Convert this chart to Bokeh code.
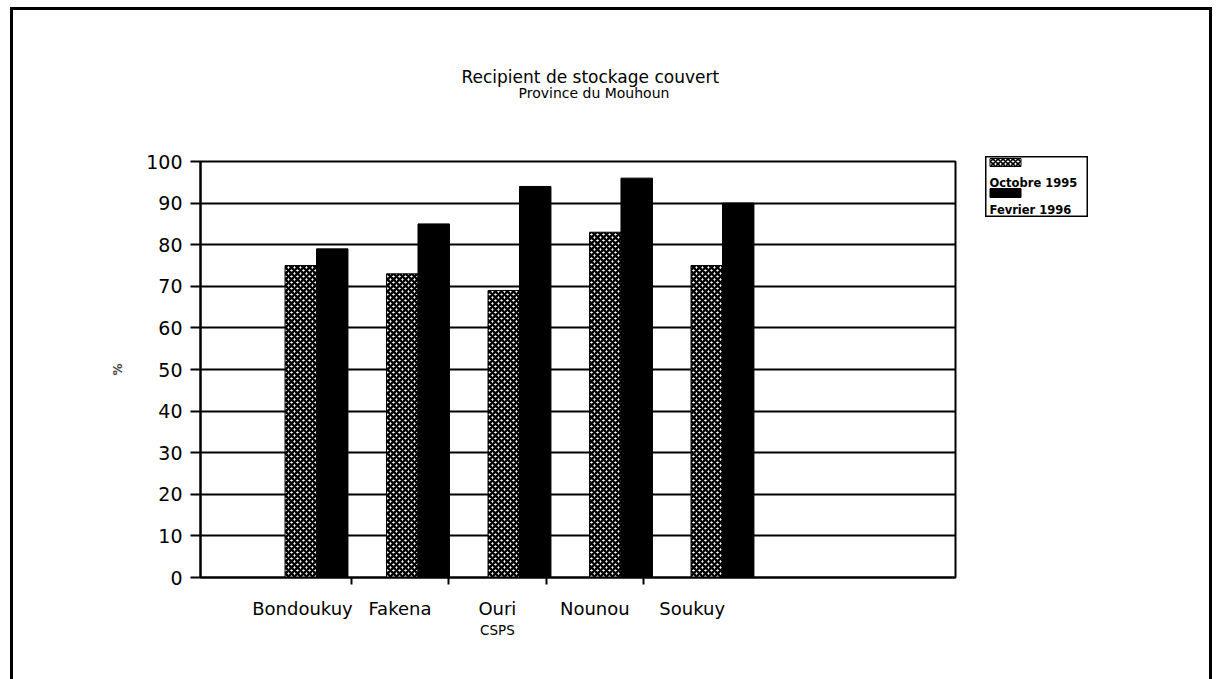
from bokeh.plotting import figure
from bokeh.models import Range1d, FixedTicker, Title, ColumnDataSource, Spacer, LinearAxis
from bokeh.layouts import row, column
from bokeh.embed import file_html
from bokeh.resources import INLINE
from bokeh.transform import dodge
from bokeh.core.properties import value

# ---- data ----
villages = ["Bondoukuy", "Fakena", "Ouri", "Nounou", "Soukuy"]
village_sub = ["", "", "CSPS", "", ""]
oct_1995 = [75, 73, 69, 83, 75]
fev_1996 = [79, 85, 94, 96, 90]
series_names = ["Octobre 1995", "Fevrier 1996"]
y_ticks = list(range(0, 101, 10))
title_text = "Recipient de stockage couvert"
subtitle_text = "Province du Mouhoun"
y_label = "%"

FONT = "DejaVu Sans"
idx = list(range(len(villages)))
src = ColumnDataSource(dict(idx=idx, oct=oct_1995, fev=fev_1996))

W, H = 1213, 679
PW = 985
p = figure(width=PW, height=H, output_backend="svg", toolbar_location=None,
           x_range=Range1d(-1.143, 6.296), y_range=Range1d(0, 100),
           min_border_left=200, min_border_right=30, min_border_top=161, min_border_bottom=102)
p.background_fill_color = "white"
p.border_fill_alpha = 0
p.outline_line_color = "black"
p.outline_line_width = 2

# titles: empty spacer title nearest the frame, then the subtitle, main title outermost
p.add_layout(Title(text=" ", standoff=43, text_font=FONT, text_font_size="14px"), "above")
p.add_layout(Title(text=subtitle_text, align="left", offset=318, standoff=0,
                   text_font=FONT, text_font_size="14px", text_font_style="normal",
                   text_color="black"), "above")
p.title.text = title_text
p.title.align = "left"
p.title.offset = 261
p.title.standoff = -8
p.title.text_font = FONT
p.title.text_font_size = "17px"
p.title.text_font_style = "normal"
p.title.text_color = "black"

bw = 0.31
p.vbar(x=dodge("idx", -bw / 2), top="oct", width=bw, source=src,
       fill_color="white", hatch_pattern="diagonal_cross", hatch_color="black",
       hatch_scale=6, hatch_weight=2.4, line_color="black", line_width=1)
p.vbar(x=dodge("idx", bw / 2), top="fev", width=bw, source=src,
       fill_color="black", line_color="black", line_width=1)

# grid
p.xgrid.visible = False
p.ygrid.ticker = FixedTicker(ticks=y_ticks)
p.ygrid.grid_line_color = "black"
p.ygrid.grid_line_width = 2

# y axis
p.yaxis.ticker = FixedTicker(ticks=y_ticks)
p.yaxis.axis_line_color = "black"
p.yaxis.axis_line_width = 2
p.yaxis.major_tick_out = 10
p.yaxis.major_tick_in = 0
p.yaxis.major_tick_line_width = 2
p.yaxis.minor_tick_line_color = None
p.yaxis.major_label_standoff = 8
p.yaxis.major_label_text_font = FONT
p.yaxis.major_label_text_font_size = "19px"
p.yaxis.major_label_text_color = "black"
p.yaxis.axis_label = y_label
p.yaxis.axis_label_text_font = FONT
p.yaxis.axis_label_text_font_size = "12px"
p.yaxis.axis_label_text_font_style = "bold"
p.yaxis.axis_label_standoff = 18

# x axis
lab_x = [round(i * 0.96 - 0.138, 4) for i in idx]
bounds = [round((a + b) / 2, 4) for a, b in zip(lab_x, lab_x[1:])]
xax = p.xaxis[0]
xax.ticker = FixedTicker(ticks=lab_x, minor_ticks=bounds)
xax.major_label_overrides = {x: v for x, v in zip(lab_x, villages)}
xax.axis_line_color = "black"
xax.axis_line_width = 2
xax.major_tick_out = 0
xax.major_tick_in = 0
xax.minor_tick_out = 7
xax.minor_tick_in = 0
xax.minor_tick_line_color = "black"
xax.minor_tick_line_width = 2
xax.major_label_standoff = 13
xax.major_label_text_font = FONT
xax.major_label_text_font_size = "18px"
xax.major_label_text_color = "black"

# second line of category labels (smaller), as an extra axis below
sub_x = [x for x, s in zip(lab_x, village_sub) if s]
sub_ax = LinearAxis(ticker=FixedTicker(ticks=sub_x, minor_ticks=[]),
                    major_label_overrides={x: s for x, s in zip(lab_x, village_sub) if s},
                    axis_line_color=None, major_tick_line_color=None, minor_tick_line_color=None,
                    major_tick_out=0, major_tick_in=0, major_label_standoff=0,
                    major_label_text_font=FONT, major_label_text_font_size="13.5px",
                    major_label_text_color="black")
p.add_layout(sub_ax, "below")

# ---- legend as a small figure ----
LW, LH = 103, 61
leg = figure(width=LW, height=LH, output_backend="svg", toolbar_location=None,
             x_range=Range1d(0, LW), y_range=Range1d(LH, 0),
             x_axis_type=None, y_axis_type=None, min_border=0)
leg.grid.visible = False
leg.outline_line_color = "black"
leg.outline_line_width = 2
leg.background_fill_color = "white"
leg.border_fill_alpha = 0
leg.rect(x=[20], y=[6], width=31, height=8, fill_color="white",
         hatch_pattern="diagonal_cross", hatch_color="black", hatch_scale=5, hatch_weight=1.6,
         line_color="black", line_width=1)
leg.rect(x=[20], y=[36.5], width=31, height=9, fill_color="black", line_color="black")
leg.text(x=[4, 4], y=[26, 53], text=series_names, text_font=value(FONT),
         text_font_size="11.5px", text_font_style="bold", text_color="black",
         text_baseline="alphabetic", text_align="left")

layout = row(p, column(Spacer(height=156, width=LW), leg),
             Spacer(width=W - PW - LW, height=H))
# page frame (left, top, right edges) painted behind the transparent figures
layout.styles = {
    "background": ("linear-gradient(black, black) 10px 7px / 3px 700px no-repeat, "
                   "linear-gradient(black, black) 10px 7px / 1202px 3px no-repeat, "
                   "linear-gradient(black, black) 1209px 7px / 3px 700px no-repeat, white"),
}

open("out.html", "w").write(file_html(layout, INLINE))
